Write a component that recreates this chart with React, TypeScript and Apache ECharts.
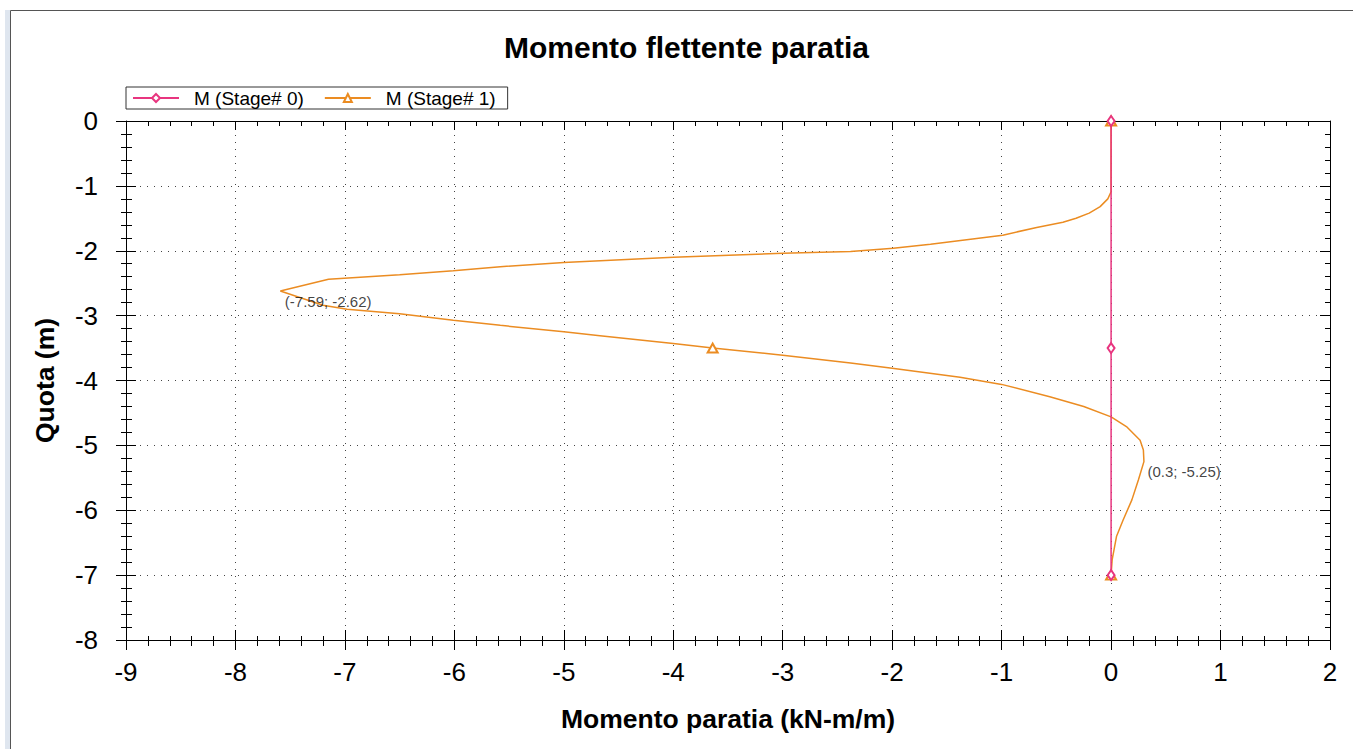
import React, { useEffect, useRef } from "react";
import * as echarts from "echarts";

const titleText = "Momento flettente paratia";
const xAxisName = "Momento paratia (kN-m/m)";
const yAxisName = "Quota (m)";
const seriesNames = ["M (Stage# 0)", "M (Stage# 1)"];

// Stage 0
const stage0X = [0, 0, 0];
const stage0Y = [0, -3.5, -7];

// Stage 1
const stage1X = [
  0, 0, -0.03, -0.1, -0.2, -0.32, -0.44, -0.68, -0.99, -1.32, -1.65, -1.99, -2.38,
  -3, -4, -5, -5.58, -6.01, -6.5, -7.15, -7.59,
  -7.2, -6.98, -6.5, -6.01, -5.58, -5, -4.67, -4, -3.64, -3, -2.38, -2, -1.38,
  -1, -0.56, -0.25, 0, 0.14, 0.265, 0.295, 0.3, 0.25, 0.19, 0.11, 0.05, 0.01, 0,
];
const stage1Y = [
  0, -1.09, -1.2, -1.32, -1.42, -1.5, -1.56, -1.64, -1.76, -1.83, -1.9, -1.96, -2.01,
  -2.04, -2.1, -2.18, -2.245, -2.31, -2.37, -2.44, -2.62,
  -2.84, -2.9, -2.97, -3.07, -3.15, -3.25, -3.31, -3.43, -3.5, -3.61, -3.73, -3.81, -3.95,
  -4.06, -4.25, -4.4, -4.56, -4.71, -4.92, -5.07, -5.25, -5.53, -5.84, -6.15, -6.4, -6.76, -7,
];
const stage1MarkerIdx = [0, 29, 47];

// Annotations (extreme values)
const annotX = [-7.59, 0.3];
const annotY = [-2.62, -5.25];
const annotText = ["(-7.59; -2.62)", "(0.3; -5.25)"];
const annotOffset = [
  [5, 11],
  [4, 10],
];

const X_MIN = -9;
const X_MAX = 2;
const Y_MIN = -8;
const Y_MAX = 0;

const PINK = "#E8357F";
const ORANGE = "#EB8C22";
const FONT = "'Liberation Sans', Arial, sans-serif";

export default function App() {
  const ref = useRef<HTMLDivElement>(null);

  useEffect(() => {
    if (!ref.current) return;
    const chart = echarts.init(ref.current, undefined, { renderer: "svg" });

    const baseX = {
      type: "value",
      min: X_MIN,
      max: X_MAX,
      interval: 1,
    };
    const baseY = {
      type: "value",
      min: Y_MIN,
      max: Y_MAX,
      interval: 1,
    };
    const black = "#000";

    const s0Data = stage0X.map((x, i) => [x, stage0Y[i]]);
    const s1Data = stage1X.map((x, i) => {
      const v = [x, stage1Y[i]];
      return stage1MarkerIdx.includes(i) ? { value: v } : { value: v, symbol: "none" };
    });

    chart.setOption({
      animation: false,
      backgroundColor: "#fff",
      textStyle: { fontFamily: FONT },
      title: {
        text: titleText,
        left: 504,
        top: 32,
        padding: 0,
        textStyle: { fontSize: 30, fontWeight: "bold", color: "#000", fontFamily: FONT },
      },
      legend: {
        data: seriesNames,
        left: 126,
        top: 87,
        orient: "horizontal",
        padding: [1, 12, 1, 6],
        itemGap: 20,
        itemWidth: 46,
        itemHeight: 10,
        borderColor: "#333",
        borderWidth: 1,
        borderRadius: 0,
        textStyle: { fontSize: 19, color: "#000", fontFamily: FONT, lineHeight: 20, padding: [0, 0, 0, 10] },
      },
      grid: { left: 126, right: 23, top: 121, bottom: 109, containLabel: false },
      xAxis: [
        {
          ...baseX,
          position: "bottom",
          name: xAxisName,
          nameLocation: "middle",
          nameGap: 65,
          nameTextStyle: { fontSize: 26.5, fontWeight: "bold", color: "#000", fontFamily: FONT },
          axisLine: { show: true, onZero: false, lineStyle: { color: black, width: 1 } },
          axisTick: { show: true, inside: false, length: 10, lineStyle: { color: black } },
          minorTick: { show: true, splitNumber: 5, length: 6, lineStyle: { color: black } },
          axisLabel: { fontSize: 26, color: "#000", margin: 19, fontFamily: FONT },
          splitLine: { show: true, lineStyle: { color: "#444", type: [1, 6], width: 1 } },
          minorSplitLine: { show: false },
        },
        {
          ...baseX,
          position: "bottom",
          axisLine: { show: false, onZero: false },
          axisTick: { show: true, inside: true, length: 10, lineStyle: { color: black } },
          minorTick: { show: true, splitNumber: 5, length: 4, lineStyle: { color: black } },
          axisLabel: { show: false },
          splitLine: { show: false },
        },
        {
          ...baseX,
          position: "top",
          axisLine: { show: true, onZero: false, lineStyle: { color: black, width: 1 } },
          axisTick: { show: true, inside: true, length: 9, lineStyle: { color: black } },
          minorTick: { show: true, splitNumber: 5, length: 5, lineStyle: { color: black } },
          axisLabel: { show: false },
          splitLine: { show: false },
        },
      ],
      yAxis: [
        {
          ...baseY,
          position: "left",
          name: yAxisName,
          nameLocation: "middle",
          nameGap: 68,
          nameRotate: 90,
          nameTextStyle: { fontSize: 26.5, fontWeight: "bold", color: "#000", fontFamily: FONT },
          axisLine: { show: true, onZero: false, lineStyle: { color: black, width: 1 } },
          axisTick: { show: true, inside: false, length: 10, lineStyle: { color: black } },
          minorTick: { show: true, splitNumber: 5, length: 5, lineStyle: { color: black } },
          axisLabel: { fontSize: 26, color: "#000", margin: 28, fontFamily: FONT },
          splitLine: { show: true, lineStyle: { color: "#444", type: [1, 6], width: 1 } },
        },
        {
          ...baseY,
          position: "left",
          axisLine: { show: false, onZero: false },
          axisTick: { show: true, inside: true, length: 10, lineStyle: { color: black } },
          minorTick: { show: true, splitNumber: 5, length: 6, lineStyle: { color: black } },
          axisLabel: { show: false },
          splitLine: { show: false },
        },
        {
          ...baseY,
          position: "right",
          axisLine: { show: true, onZero: false, lineStyle: { color: black, width: 1 } },
          axisTick: { show: true, inside: true, length: 10, lineStyle: { color: black } },
          minorTick: { show: true, splitNumber: 5, length: 5, lineStyle: { color: black } },
          axisLabel: { show: false },
          splitLine: { show: false },
        },
      ],
      graphic: [
        {
          type: "rect",
          shape: { x: 5, y: 10, width: 5, height: 760 },
          style: { fill: "#dfe6ef" },
          silent: true,
        },
        {
          type: "rect",
          shape: { x: 10.5, y: 10.5, width: 1400, height: 800 },
          style: { fill: "none", stroke: "#555", lineWidth: 1 },
          silent: true,
          z: -1,
        },
      ],
      series: [
        {
          name: seriesNames[0],
          type: "line",
          data: s0Data,
          xAxisIndex: 0,
          yAxisIndex: 0,
          symbol: "emptyDiamond",
          symbolSize: [7, 10],
          showSymbol: true,
          color: PINK,
          lineStyle: { color: PINK, width: 1.5 },
          itemStyle: { color: PINK, borderColor: PINK, borderWidth: 1 },
          z: 4,
        },
        {
          name: seriesNames[1],
          type: "line",
          data: s1Data,
          xAxisIndex: 0,
          yAxisIndex: 0,
          symbol: "emptyTriangle",
          symbolSize: [10, 9],
          showSymbol: true,
          color: ORANGE,
          lineStyle: { color: ORANGE, width: 1.5 },
          itemStyle: { color: ORANGE, borderColor: ORANGE, borderWidth: 1 },
          z: 3,
        },
        {
          name: "annotations",
          type: "scatter",
          xAxisIndex: 0,
          yAxisIndex: 0,
          symbolSize: 1,
          itemStyle: { color: "rgba(0,0,0,0)" },
          silent: true,
          data: annotX.map((x, i) => ({
            value: [x, annotY[i]],
            label: {
              show: true,
              formatter: annotText[i],
              position: annotOffset[i],
              align: "left",
              verticalAlign: "middle",
              fontSize: 15,
              color: "#111",
              fontFamily: FONT,
            },
          })),
          z: 5,
        },
      ],
    });

    return () => chart.dispose();
  }, []);

  return (
    <div
      ref={ref}
      style={{ position: "fixed", left: 0, top: 0, width: 1353, height: 749, background: "#fff" }}
    />
  );
}
